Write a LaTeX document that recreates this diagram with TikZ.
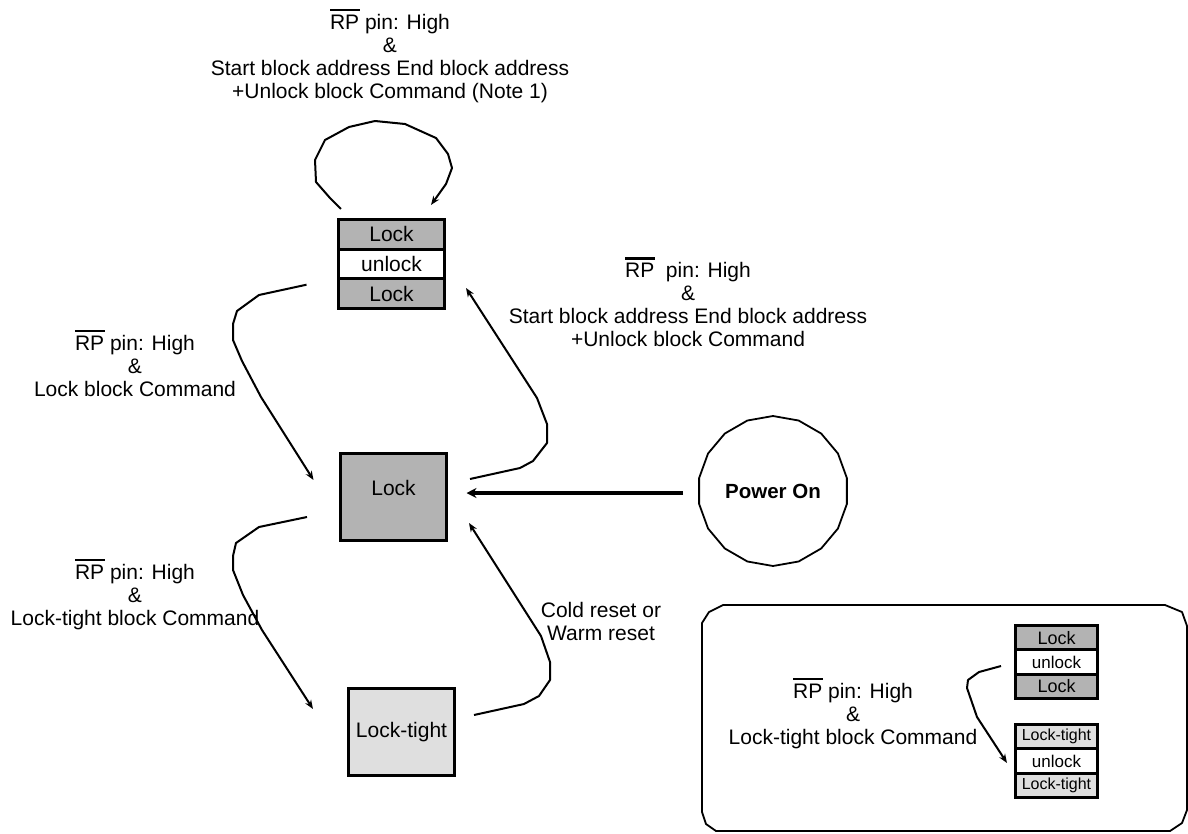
\documentclass[tikz,border=0pt]{standalone}
\usepackage{fontspec}
\setmainfont{Liberation Sans}
\usetikzlibrary{arrows.meta,shapes.geometric,calc}
\definecolor{lockgray}{RGB}{179,179,179}
\definecolor{tightgray}{RGB}{223,223,223}
\newcommand\rpbar{\makebox[0pt][l]{\rule[0.86em]{1.42em}{0.11em}}RP}
\begin{document}
\begin{tikzpicture}[x=1pt,y=-1pt,
  every node/.style={inner sep=0pt,outer sep=0pt},
  bigfont/.style={font=\fontsize{21}{23}\selectfont},
  cellbig/.style={draw,line width=3.2pt,minimum width=106pt,minimum height=29.7pt,bigfont},
  square/.style={draw,line width=3.2pt,minimum width=106pt,minimum height=87pt,bigfont},
  cellsmall/.style={draw,line width=3.2pt,minimum width=82pt,minimum height=24.33pt},
  conn/.style={line width=2pt,line join=round,-{Stealth[length=9pt,width=7pt]}},
  lbl/.style={align=center,bigfont},
]
\useasboundingbox (0,0) rectangle (1188,833);

% top block
\node[cellbig,fill=lockgray] (t1) at (391.5,234.3) {Lock};
\node[cellbig,fill=white]    (t2) at (391.5,264.0) {unlock};
\node[cellbig,fill=lockgray] (t3) at (391.5,293.7) {Lock};

% lock square
\node[square,fill=lockgray,text depth=18pt] (lock) at (393.5,497) {Lock};
% lock-tight square
\node[square,fill=tightgray] (ltight) at (401.5,732) {Lock-tight};

% power on
\node[draw,regular polygon,regular polygon sides=18,shape border rotate=10,
      minimum size=150pt,line width=1.8pt,
      font=\fontsize{20.5}{23}\bfseries\selectfont] (power) at (773,491) {Power On};

% right box
\draw[line width=1.8pt,line join=round]
  (723,605) -- (1165,605) -- (1182,612) -- (1187,626) -- (1187,810) -- (1182,823)
  -- (1170,831) -- (716,831) -- (706,824) -- (702,812) -- (702,623) -- (709,612) -- cycle;

% small blocks
\node[cellsmall,fill=lockgray,font=\fontsize{18}{20}\selectfont] (s1) at (1056.5,637.7) {Lock};
\node[cellsmall,fill=white,font=\fontsize{17}{20}\selectfont]    (s2) at (1056.5,662.0) {unlock};
\node[cellsmall,fill=lockgray,font=\fontsize{18}{20}\selectfont] (s3) at (1056.5,686.3) {Lock};
\node[cellsmall,fill=tightgray,font=\fontsize{16}{20}\selectfont] (s4) at (1056.5,736.7) {Lock-tight};
\node[cellsmall,fill=white,font=\fontsize{17}{20}\selectfont]     (s5) at (1056.5,761.0) {unlock};
\node[cellsmall,fill=tightgray,font=\fontsize{16}{20}\selectfont] (s6) at (1056.5,785.3) {Lock-tight};

% labels
\node[lbl] (ltop) at (390,56) {\rpbar\ pin: High\\\&\\Start block address End block address\\+Unlock block Command (Note 1)};
\node[lbl] (lmid) at (688,302) {\rpbar\ \ pin: High\\\&\\Start block address End block address\\+Unlock block Command};
\node[lbl] (lleft1) at (135,363) {\rpbar\ pin: High\\\&\\Lock block Command};
\node[lbl] (lleft2) at (135,594) {\rpbar\ pin: High\\\&\\Lock-tight block Command};
\node[lbl] (lcold) at (601,621) {Cold reset or\\Warm reset};
\node[lbl] (lbox) at (853,713) {\rpbar\ pin: High\\\&\\Lock-tight block Command};

% connectors
\draw[conn] ($(t1.north)+(-50.5,-10.5)$) -- (330,198) -- (316,182) -- (315,160) -- (325,140)
  -- (349,127) -- (375,121) -- (405,124) -- (436,138) -- (448,154) -- (452,168) -- (446,184)
  -- ($(t1.north)+(39.5,-14.5)$);
\draw[conn] ($(t3.west)+(-32,-9)$) -- (259,295) -- (237,311) -- (233,324) -- (233,340)
  -- (242,361) -- (261,397) -- ($(lock.west)+(-27,-17)$);
\draw[conn] ($(lock.west)+(-33.5,20)$) -- (259,527) -- (236,543) -- (233,556) -- (233,570)
  -- (243,595) -- (262,630) -- ($(ltight.west)+(-35.5,-23)$);
\draw[conn] ($(lock.east)+(23.5,-18)$) -- (520,468) -- (533,461) -- (547,443) -- (547,424)
  -- (537,398) -- ($(t3.east)+(21.5,-5.7)$);
\draw[conn] ($(ltight.east)+(19.5,-17)$) -- (524,704) -- (539,696) -- (550,680) -- (550,662)
  -- (541,636) -- ($(lock.east)+(22.5,26)$);
\draw[line width=3.3pt,-{Stealth[length=10pt,width=10pt]}]
  ($(power.west)+(-16,2)$) -- ($(lock.east |- power.west)+(20,2)$);
\draw[conn] ($(s2.west)+(-14.5,4)$) -- (979,672) -- (968,680) -- (967,688) -- (977,717)
  -- ($(s5.west)+(-8.5,2)$);
\end{tikzpicture}
\end{document}
